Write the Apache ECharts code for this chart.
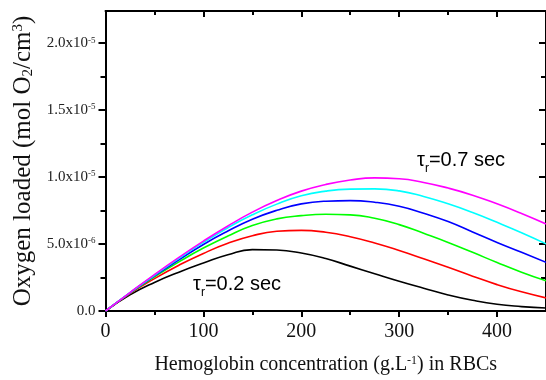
<!DOCTYPE html>
<html><head><meta charset="utf-8">
<script src="https://cdn.jsdelivr.net/npm/echarts@6/dist/echarts.min.js"></script>
<style>html,body{margin:0;padding:0;background:#fff}#c{width:546px;height:380px}</style>
</head><body><div id="c"></div>
<script>
// Hemoglobin concentration (g/L)
const hemoglobin = [0,25,50,75,100,125,150,175,200,225,250,275,300,325,350,375,400,425,450];
// Oxygen loaded, in units of 1e-6 mol O2/cm3
const tau07 = [0,1.38,2.72,4.0,5.22,6.35,7.38,8.25,8.95,9.45,9.78,9.94,9.88,9.6,9.18,8.65,8.0,7.28,6.5];    // magenta
const tau06 = [0,1.37,2.67,3.93,5.12,6.22,7.18,7.98,8.6,8.95,9.1,9.12,8.97,8.55,8.0,7.35,6.62,5.85,5.02];   // cyan
const tau05 = [0,1.36,2.62,3.82,4.97,5.97,6.85,7.52,8.0,8.2,8.24,8.12,7.82,7.3,6.68,5.9,5.12,4.38,3.63];    // blue
const tau04 = [0,1.34,2.55,3.67,4.7,5.6,6.38,6.88,7.12,7.22,7.18,6.92,6.45,5.8,5.12,4.38,3.62,2.9,2.25];    // green
const tau03 = [0,1.3,2.42,3.42,4.3,5.05,5.62,5.95,6.02,5.88,5.55,5.08,4.52,3.9,3.26,2.6,1.97,1.43,0.98];    // red
const tau02 = [0,1.2,2.13,2.9,3.58,4.2,4.58,4.55,4.33,3.92,3.35,2.78,2.22,1.7,1.2,0.8,0.5,0.33,0.22];      // black

const xTicks = [0,100,200,300,400];
const xTickLabels = ['0','100','200','300','400'];
const yTicks = [0,5,10,15,20];
const yTickMant = ['0.0','5.0x10','1.0x10','1.5x10','2.0x10'];
const yTickExp = ['','-6','-5','-5','-5'];

const seriesDefs = [
  {name:'0.2', data: tau02, color:'#000000'},
  {name:'0.3', data: tau03, color:'#ff0000'},
  {name:'0.4', data: tau04, color:'#00ff00'},
  {name:'0.5', data: tau05, color:'#0000ff'},
  {name:'0.6', data: tau06, color:'#00ffff'},
  {name:'0.7', data: tau07, color:'#ff00ff'}
];

const chart = echarts.init(document.getElementById('c'), null, {renderer:'canvas'});
const serif = 'Liberation Serif';
const sans = 'Liberation Sans';
const black = '#000';

const xMax = 450, yMax = 22.4;

function xAx(pos, main) {
  return {
    type:'value', position: pos, min:0, max:xMax, interval:100,
    axisLine:{show:true, onZero:false, lineStyle:{color:black, width:2}},
    axisTick:{show:true, inside: pos==='top', length:6, customValues:xTicks, lineStyle:{color:black, width:2}},
    minorTick:{show:true, splitNumber:2, length:4, lineStyle:{color:black, width:2}},
    splitLine:{show:false}, minorSplitLine:{show:false},
    axisLabel: main ? {show:true, customValues:xTicks, margin:11, color:'#111', fontFamily:serif, fontSize:20,
      formatter:(v)=>{const i=xTicks.indexOf(v); return i>=0?xTickLabels[i]:'';}} : {show:false},
    name: main ? '{a|Hemoglobin concentration (g.L}{s|-1}{a|) in RBCs}' : '',
    nameLocation:'middle', nameGap:44,
    nameTextStyle:{rich:{a:{fontFamily:serif, fontSize:20, color:'#111'}, s:{fontFamily:serif, fontSize:12, color:'#111', verticalAlign:'top'}}}
  };
}
function yAx(pos, main) {
  return {
    type:'value', position: pos, min:0, max:yMax, interval:5,
    axisLine:{show:true, onZero:false, lineStyle:{color:black, width:2}},
    axisTick:{show:true, inside: pos==='right', length:7, customValues:yTicks, lineStyle:{color:black, width:2}},
    minorTick:{show:true, splitNumber:2, length:5, lineStyle:{color:black, width:2}},
    splitLine:{show:false}, minorSplitLine:{show:false},
    axisLabel: main ? {show:true, customValues:yTicks, margin:10,
      formatter:(v)=>{const i=yTicks.indexOf(v); if(i<0) return ''; return yTickExp[i] ? '{m|'+yTickMant[i]+'}{e|'+yTickExp[i]+'}' : '{m|'+yTickMant[i]+'}';},
      rich:{m:{fontFamily:serif, fontSize:15, color:'#222'}, e:{fontFamily:serif, fontSize:9, color:'#222', verticalAlign:'top'}}} : {show:false},
    name: main ? '{a|Oxygen loaded (mol O}{b|2}{a|/cm}{s|3}{a|)}' : '',
    nameLocation:'middle', nameGap:69,
    nameTextStyle:{rich:{a:{fontFamily:serif, fontSize:25, color:'#111'}, b:{fontFamily:serif, fontSize:15, color:'#111', verticalAlign:'bottom'}, s:{fontFamily:serif, fontSize:15, color:'#111', verticalAlign:'top'}}}
  };
}

const tauRich = {
  t:{fontFamily:sans, fontSize:20, lineHeight:22, color:'#111', verticalAlign:'top'},
  r:{fontFamily:sans, fontSize:12, lineHeight:38, color:'#111', verticalAlign:'middle'}
};

chart.setOption({
  animation:false,
  backgroundColor:'#fff',
  grid:{left:105.5, top:11, width:444.5, height:301, containLabel:false},
  xAxis:[xAx('bottom', true), xAx('top', false)],
  yAxis:[yAx('left', true), yAx('right', false)],
  series: seriesDefs.map(s=>({
    type:'line', name:s.name, xAxisIndex:0, yAxisIndex:0,
    data: hemoglobin.map((h,i)=>[h, s.data[i]]),
    smooth:0.5, showSymbol:false, clip:true,
    lineStyle:{color:s.color, width:1.6}, itemStyle:{color:s.color}
  })),
  graphic:[
    {type:'text', left:417, top:150, style:{text:'{t|τ}{r|r}{t|=0.7 sec}', rich:tauRich}},
    {type:'text', left:193, top:274, style:{text:'{t|τ}{r|r}{t|=0.2 sec}', rich:tauRich}}
  ]
});
</script></body></html>
